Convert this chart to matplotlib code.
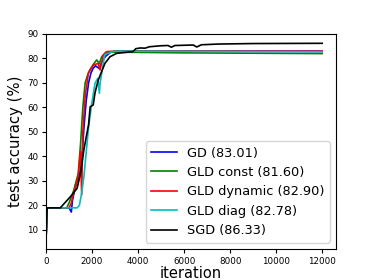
import matplotlib
matplotlib.use("Agg")
import matplotlib.pyplot as plt

gd_x = [0, 50, 1000, 1100, 1150, 1300, 1450, 1550, 1650, 1750, 1850, 1950, 2050, 2150, 2300, 2450, 2600, 2800, 3000, 6000, 12000]
gd_y = [6, 19, 19, 17.3, 22, 29, 32, 38, 52, 63, 70, 74, 76, 77, 76, 79, 81, 82.5, 83, 83, 83]

gc_x = [0, 50, 900, 1000, 1200, 1400, 1500, 1600, 1700, 1800, 1900, 2050, 2200, 2320, 2420, 2600, 3000, 6000, 12000]
gc_y = [6, 19, 19, 21, 26, 33, 45, 60, 70, 73, 75.3, 77.5, 79.4, 78, 80.7, 82.5, 82.6, 82.3, 82.0]

gdy_x = [0, 50, 1000, 1100, 1200, 1300, 1400, 1500, 1550, 1600, 1700, 1840, 2060, 2270, 2350, 2490, 2640, 3000, 12000]
gdy_y = [6, 19, 19, 21, 25, 28, 32, 42, 24.3, 50, 64.4, 74, 77.3, 78, 75.3, 81.4, 82.8, 83, 82.9]

gdi_x = [0, 50, 1350, 1450, 1550, 1650, 1750, 1850, 1990, 2130, 2250, 2320, 2350, 2490, 2550, 2600, 2800, 3000, 12000]
gdi_y = [6, 19, 19, 20, 25, 32, 42, 52, 61.7, 69.9, 71.9, 65.8, 69.9, 78, 81.4, 81.8, 82.5, 83, 82.7]

sgd_x = [0, 50, 620, 1130, 1350, 1500, 1650, 1850, 1920, 2050, 2130, 2270, 2560, 2780, 3070, 3780, 3900, 4100, 4300, 4500, 5000, 5300, 5450, 5600, 6000, 6400, 6550, 6750, 7500, 9000, 12000]
sgd_y = [6, 19, 19, 24.3, 27, 33, 43, 53, 60.3, 61, 66, 71.2, 78, 80.7, 82.1, 82.8, 84, 84.3, 84.2, 84.8, 85.2, 85.3, 84.6, 85.3, 85.4, 85.5, 84.7, 85.6, 85.9, 86.1, 86.2]

labels = ["GD (83.01)", "GLD const (81.60)", "GLD dynamic (82.90)", "GLD diag (82.78)", "SGD (86.33)"]

fig = plt.figure(figsize=(3.74, 2.8), dpi=100)
ax = fig.add_axes([46/374, 1-249/280, 290/374, 215/280])
ax.plot(gd_x, gd_y, color='b', lw=1.2, label=labels[0])
ax.plot(gc_x, gc_y, color='g', lw=1.2, label=labels[1])
ax.plot(gdy_x, gdy_y, color='r', lw=1.2, label=labels[2])
ax.plot(gdi_x, gdi_y, color='c', lw=1.2, label=labels[3])
ax.plot(sgd_x, sgd_y, color='k', lw=1.2, label=labels[4])
ax.set_xlim(0, 12600)
ax.set_ylim(2.2, 90)
ax.set_xticks([0, 2000, 4000, 6000, 8000, 10000, 12000])
ax.set_yticks([10, 20, 30, 40, 50, 60, 70, 80, 90])
ax.tick_params(labelsize=6.3, length=3, pad=2.5)
ax.set_xlabel("iteration", fontsize=10.5, labelpad=0)
ax.set_ylabel("test accuracy (%)", fontsize=10.7, labelpad=3)
ax.legend(loc='lower right', fontsize=9.3, handlelength=2.0)
fig.savefig("out.png", dpi=100)
